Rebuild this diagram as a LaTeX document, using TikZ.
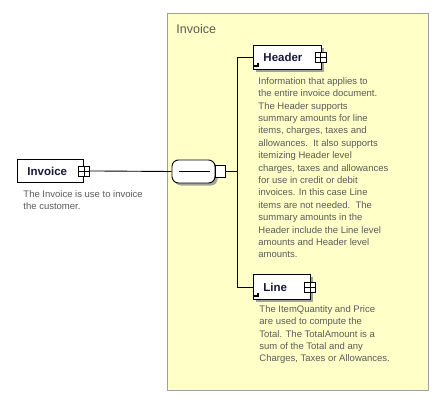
\documentclass[tikz,border=0pt]{standalone}
\usepackage{fontspec}
\setmainfont{Liberation Sans}
\usetikzlibrary{positioning,shadows}

\definecolor{groupfill}{RGB}{255,255,200}
\definecolor{groupline}{RGB}{160,160,160}
\definecolor{titlecol}{RGB}{25,25,60}
\definecolor{notecol}{RGB}{90,90,90}

\def\notesize{\fontsize{9.5}{12.4}\selectfont}
\def\spinex{237}

\begin{document}
\begin{tikzpicture}[x=1pt,y=-1pt,line width=0.9pt]
\tikzstyle{group}=[draw=groupline,fill=groupfill,line width=0.7pt,anchor=north west,inner sep=0pt]
\tikzstyle{element}=[draw=black,fill=white,anchor=north west,inner xsep=10pt,inner ysep=0pt,align=left,font=\fontsize{11.5}{12}\selectfont\bfseries,text=titlecol]
\tikzstyle{shadowed}=[drop shadow={shadow xshift=2.5pt,shadow yshift=-2.5pt,fill=black!45,opacity=0.8}]
\tikzstyle{expander}=[draw=black,fill=white,line width=0.7pt,minimum width=11pt,minimum height=10pt,inner sep=0pt,
  path picture={\draw[line width=0.7pt] (path picture bounding box.north) -- (path picture bounding box.south)
    (path picture bounding box.west) -- (path picture bounding box.east);}]
\tikzstyle{sequence}=[rectangle,rounded corners=6.5pt,draw=black,fill=white,minimum width=43pt,minimum height=23pt,inner sep=0pt]
\tikzstyle{plug}=[draw=black,fill=white,line width=0.7pt,minimum width=10pt,minimum height=12pt,inner sep=0pt,anchor=west]
\tikzstyle{note}=[anchor=north west,inner sep=0pt,align=left,font=\notesize,text=notecol]

\useasboundingbox (0,0) rectangle (444,409);

% Draw the group box
\node[group,minimum width=261pt,minimum height=377pt] (G) at (167,13) {};
\node[note,font=\fontsize{12.5}{14}\selectfont] (G-label) at (176,23.7) {Invoice};

% Draw the root element
\node[element,text width=46pt,minimum height=23pt] (I) at (17,159) {Invoice};
\node[expander] (I-plus) at (I.east) {};
\node[note] (I-note) at (23,190) {The Invoice is use to invoice\\the customer.};

% Draw the sequence compositor
\node[sequence,shadowed] (S) at (193.5,171.5) {};
\draw ([xshift=7pt]S.west) -- ([xshift=-5pt]S.east);
\node[plug] (S-plug) at (S.east) {};

% Draw the child elements
\node[element,shadowed,text width=48pt,minimum height=24pt] (H) at (253,45) {Header};
\node[expander] (H-plus) at ([xshift=-1.5pt]H.east) {};
\fill ([shift={(1pt,3pt)}]H.south west) rectangle ++(5pt,2pt);
\fill ([shift={(4pt,5pt)}]H.south west) rectangle ++(2pt,2pt);
\node[note] (H-note) at (258,77) {Information that applies to\\the entire invoice document.\\The Header supports\\summary amounts for line\\items, charges, taxes and\\allowances.\ \ It also supports\\itemizing Header level\\charges, taxes and allowances\\for use in credit or debit\\invoices. In this case Line\\items are not needed.\ \ The\\summary amounts in the\\Header include the Line level\\amounts and Header level\\amounts.};

\node[element,shadowed,text width=37pt,minimum height=25pt] (L) at (253,274) {Line};
\node[expander] (L-plus) at ([xshift=-1pt]L.east) {};
\fill ([shift={(1pt,3pt)}]L.south west) rectangle ++(5pt,2pt);
\fill ([shift={(4pt,5pt)}]L.south west) rectangle ++(2pt,2pt);
\node[note] (L-note) at (259,305) {The ItemQuantity and Price\\are used to compute the\\Total. The TotalAmount is a\\sum of the Total and any\\Charges, Taxes or Allowances.};

% Connect the elements
\coordinate (spine) at (\spinex,171.5);
\draw (I-plus.east) -- (S.west);
\draw (S-plug.east) -- (spine);
\draw (H.west) -- (H.west -| spine) -- (L.west -| spine) -- (L.west);
\end{tikzpicture}
\end{document}
